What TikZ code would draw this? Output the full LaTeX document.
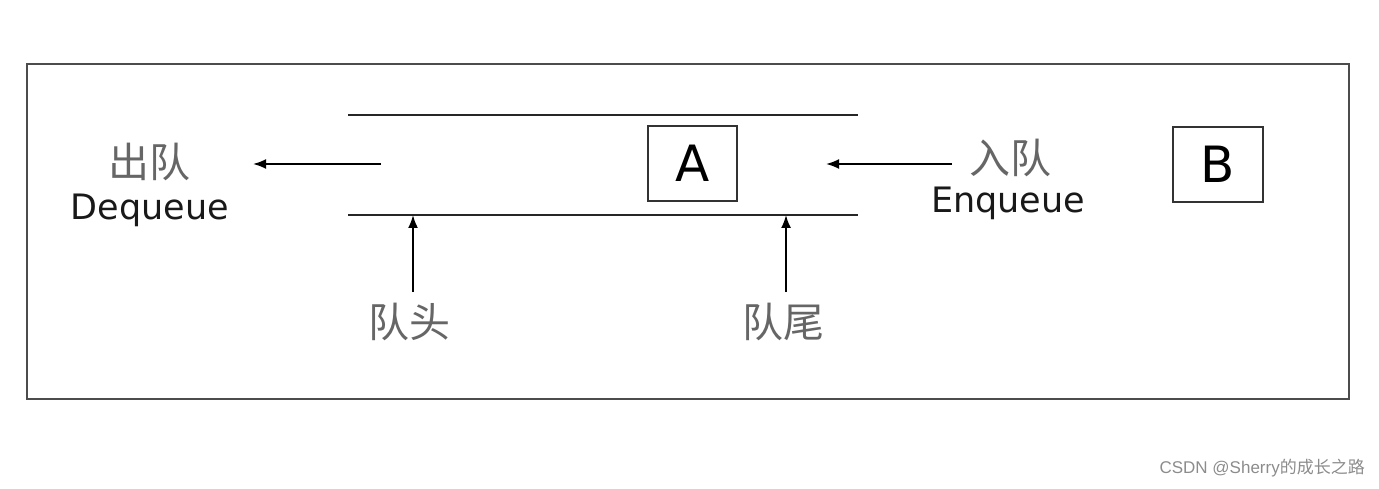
\documentclass[tikz,border=0pt]{standalone}
\usepackage{fontspec}
\setmainfont{DejaVu Sans}
\newfontfamily\cjk{Noto Sans CJK SC}
\usetikzlibrary{arrows.meta}
\tikzset{
  lbl/.style={inner sep=0pt, font=\fontsize{35}{40}\selectfont, text=black!90},
  zh/.style={inner sep=0pt, font=\cjk\fontsize{41}{45}\selectfont, text=black!60},
  letterbox/.style={draw=black!80, line width=2pt, inner sep=0pt, font=\fontsize{50}{55}\selectfont},
  rail/.style={draw=black!85, line width=2.2pt},
  arr/.style={draw=black, line width=1.8pt, -{Latex[length=13pt,width=10pt]}},
}
\begin{document}
\begin{tikzpicture}[x=1pt,y=-1pt]
\useasboundingbox (0,0) rectangle (1379,489);
\draw[draw=black!70, line width=2.4pt] (27,64) rectangle (1349,399);
% rails
\coordinate (t1) at (348,115); \coordinate (t2) at (858,115);
\coordinate (b1) at (348,215); \coordinate (b2) at (858,215);
\draw[rail] (t1) -- (t2);
\draw[rail] (b1) -- (b2);
% boxes
\node[letterbox, minimum width=89pt, minimum height=75pt] (A) at (692.5,163.5) {A};
\node[letterbox, minimum width=90pt, minimum height=75pt] (B) at (1218,164.5) {B};
% labels
\node[zh] (chu) at (149,162) {出队};
\node[lbl] (deq) at (150,210) {Dequeue};
\node[zh] (ru) at (1010,158) {入队};
\node[lbl] (enq) at (1008,203) {Enqueue};
\node[zh] (tou) at (409,322) {队头};
\node[zh] (wei) at (783,322) {队尾};
% arrows
\coordinate (d1) at (381,164); \coordinate (d2) at (253,164);
\draw[arr] (d1) -- (d2);
\coordinate (e1) at (952,164); \coordinate (e2) at (826,164);
\draw[arr] (e1) -- (e2);
\coordinate (h1) at (413,292); \coordinate (h2) at (413,215);
\draw[arr] (h1) -- (h2);
\coordinate (w1) at (786,292); \coordinate (w2) at (786,215);
\draw[arr] (w1) -- (w2);
% watermark
\node[inner sep=0pt, anchor=east, font=\fontsize{17}{20}\selectfont, text=black!45] (wm) at (1365,468) {\fontspec{Liberation Sans}CSDN @Sherry{\cjk 的成长之路}};
\end{tikzpicture}
\end{document}
